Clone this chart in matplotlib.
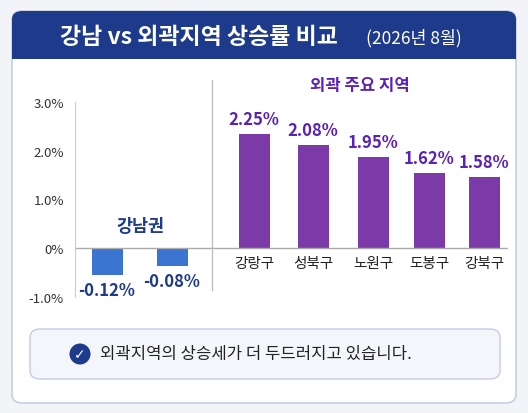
import matplotlib.pyplot as plt
from matplotlib.patches import FancyBboxPatch, Circle, Rectangle

plt.rcParams['font.family'] = ['Noto Sans CJK KR', 'DejaVu Sans']

# data
gangnam_vals = [-0.55, -0.37]
gangnam_labels = ['-0.12%', '-0.08%']
outer_names = ['강랑구', '성북구', '노원구', '도봉구', '강북구']
outer_vals = [2.35, 2.12, 1.88, 1.55, 1.47]
outer_labels = ['2.25%', '2.08%', '1.95%', '1.62%', '1.58%']
yticks = [-1.0, 0, 1.0, 2.0, 3.0]
ytick_labels = ['-1.0%', '0%', '1.0%', '2.0%', '3.0%']

W, H = 528, 414
fig = plt.figure(figsize=(W / 100, H / 100), dpi=100)
fig.patch.set_facecolor('#f3f4f8')

def fx(px):
    return px / W

def fy(py):
    return 1 - py / H

# card
card = FancyBboxPatch((fx(12), fy(404)), fx(504), (404 - 12) / H,
                      boxstyle='round,pad=0,rounding_size=0.02',
                      transform=fig.transFigure, facecolor='white',
                      edgecolor='#c9cfe0', lw=1.2, zorder=0)
fig.patches.append(card)
header = FancyBboxPatch((fx(12), fy(60)), fx(504), 48 / H,
                        boxstyle='round,pad=0,rounding_size=0.02',
                        transform=fig.transFigure, facecolor='#1e3a8a',
                        edgecolor='none', zorder=0)
fig.patches.append(header)
fig.patches.append(Rectangle((fx(12), fy(60)), fx(504), 14 / H, transform=fig.transFigure,
                             facecolor='#1e3a8a', edgecolor='none', zorder=0))
fig.text(fx(60), fy(37), '강남 vs 외곽지역 상승률 비교', ha='left', va='center',
         color='white', fontsize=16.5, fontweight='bold')
fig.text(fx(366), fy(38), '(2026년 8월)', ha='left', va='center',
         color='white', fontsize=12.5)

# chart
ax = fig.add_axes([fx(75), fy(298), fx(508 - 75), (298 - 103) / H])
ax.set_zorder(3)
ax.set_xlim(75, 508)
ax.set_ylim(-1.0, 3.0)
ax.set_facecolor('none')

g_x = [107, 172]
o_x = [254, 313, 373, 429, 484]
ax.bar(g_x, gangnam_vals, width=31, color='#3b74d1')
ax.bar(o_x, outer_vals, width=31, color='#7b3aa8')
for x, v, l in zip(g_x, gangnam_vals, gangnam_labels):
    ax.text(x, v - 0.12, l, ha='center', va='top', fontsize=12,
            fontweight='semibold', color='#1e3a8a')
for x, v, l in zip(o_x, outer_vals, outer_labels):
    ax.text(x, v + 0.12, l, ha='center', va='bottom', fontsize=12,
            fontweight='semibold', color='#5b21b6')
for x, n in zip(o_x, outer_names):
    ax.text(x, -0.15, n, ha='center', va='top', fontsize=10.5, color='#222222')

ax.axhline(0, color='#aaaaaa', lw=1)
ax.plot([212, 212], [-0.85, 3.45], color='#bbbbbb', lw=0.9, clip_on=False)
ax.text(140, 0.45, '강남권', ha='center', va='center', fontsize=12.5,
        fontweight='bold', color='#1e3a8a')
ax.text(360, 3.35, '외곽 주요 지역', ha='center', va='center', fontsize=12,
        fontweight='bold', color='#5b21b6')

for s in ['top', 'right', 'bottom']:
    ax.spines[s].set_visible(False)
ax.spines['left'].set_color('#cccccc')
ax.set_xticks([])
ax.set_yticks(yticks)
ax.set_yticklabels(ytick_labels, fontsize=9.5, color='#333333')
ax.tick_params(axis='y', length=0, pad=8)

# callout
box = FancyBboxPatch((fx(30), fy(380)), fx(470), 50 / H,
                     boxstyle='round,pad=0,rounding_size=0.02',
                     transform=fig.transFigure, facecolor='#f4f6fc',
                     edgecolor='#c3cbe6', lw=1, zorder=1)
fig.patches.append(box)
fig.patches.append(Circle((0.80, (H - 355) / 100), 0.105, transform=fig.dpi_scale_trans,
                          facecolor='#1e3a8a', edgecolor='none', zorder=2))
fig.text(fx(80), fy(355), '✓', ha='center', va='center', color='white',
         fontsize=10, fontweight='bold', family=['DejaVu Sans'])
fig.text(fx(100), fy(355), '외곽지역의 상승세가 더 두드러지고 있습니다.', ha='left',
         va='center', fontsize=12, color='#222222')

fig.savefig('out.png', dpi=100, facecolor=fig.get_facecolor())
